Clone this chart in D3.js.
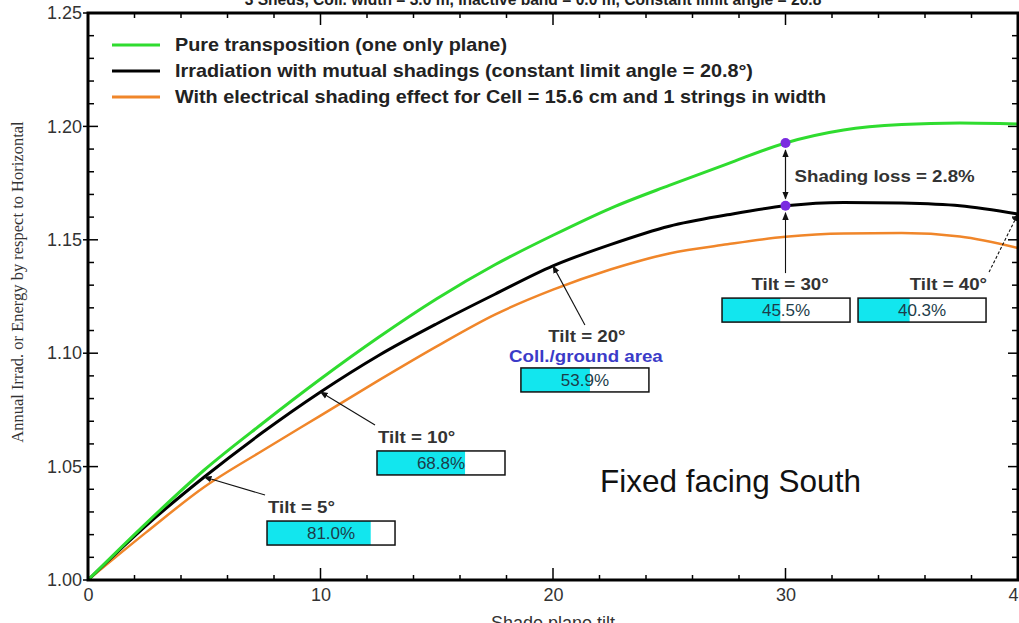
<!DOCTYPE html>
<html>
<head>
<meta charset="utf-8">
<title>Shading tilt</title>
<script src="https://cdn.jsdelivr.net/npm/d3@7"></script>
<style>
  body { margin: 0; background: #fff; }
  text { font-family: "Liberation Sans", Arial, sans-serif; }
</style>
</head>
<body>
<svg width="1019" height="623" id="mainsvg" style="display:block"></svg>
<script>
  // data
  const tilts = [0, 2.5, 5, 7.5, 10, 12.5, 15, 17.5, 20, 22.5, 25, 27.5, 30, 32.5, 35, 37.5, 40];
  const pureTransposition = [1.000, 1.025, 1.0485, 1.069, 1.0886, 1.107, 1.124, 1.139, 1.152, 1.164, 1.174, 1.1835, 1.1927, 1.1984, 1.2008, 1.2015, 1.2011];
  const mutualShading = [1.000, 1.024, 1.0454, 1.065, 1.0829, 1.099, 1.113, 1.126, 1.1385, 1.148, 1.156, 1.161, 1.165, 1.1665, 1.1662, 1.1650, 1.1614];
  const electricalShading = [1.000, 1.021, 1.041, 1.057, 1.0725, 1.088, 1.103, 1.117, 1.128, 1.137, 1.144, 1.148, 1.1513, 1.1528, 1.153, 1.1515, 1.1464];
  const seriesNames = [
    "Pure transposition (one only plane)",
    "Irradiation with mutual shadings (constant limit angle = 20.8°)",
    "With electrical shading effect for Cell = 15.6 cm and 1 strings in width"
  ];
  const seriesColors = ["#2fdc2f", "#000000", "#f0862a"];
  const markTilts = [5, 10, 20, 30, 40];
  const collGroundArea = [81.0, 68.8, 53.9, 45.5, 40.3];
  const lossTilt = 30;
  const shadingLoss = 2.8;
  const xTickValues = [0, 10, 20, 30, 40];
  const yTickValues = [1.00, 1.05, 1.10, 1.15, 1.20, 1.25];

  const svg = d3.select('svg');
  const width = +svg.attr('width');
  const height = +svg.attr('height');
  const margin = { top: 13, right: 1, bottom: 43, left: 88 };
  const innerWidth = width - margin.left - margin.right;
  const innerHeight = height - margin.top - margin.bottom;

  const x = d3.scaleLinear().domain([0, 40]).range([margin.left, margin.left + innerWidth]);
  const y = d3.scaleLinear().domain([1.0, 1.25]).range([margin.top + innerHeight, margin.top]);

  // the bold labels of the original are a bit wider than Arial bold
  const stretch = 1.1;
  const wideText = (parent, px, py) => parent.append('text')
    .attr('transform', `translate(${px}, ${py}) scale(${stretch}, 1)`);

  const defs = svg.append('defs');
  defs.append('marker').attr('id', 'arrow')
    .attr('viewBox', '0 0 10 10').attr('refX', 9).attr('refY', 5)
    .attr('markerWidth', 8).attr('markerHeight', 8).attr('orient', 'auto-start-reverse')
    .attr('markerUnits', 'userSpaceOnUse')
    .append('path').attr('d', 'M0,1 L10,5 L0,9 z').attr('fill', '#111');

  // title (cut by the top of the picture, as in the original)
  svg.append('text')
    .attr('x', 533).attr('y', 5)
    .attr('text-anchor', 'middle')
    .attr('font-size', 15.6).attr('font-weight', 'bold').attr('fill', '#222')
    .text('3 Sheds, Coll. width = 3.0 m, Inactive band = 0.0 m, Constant limit angle = 20.8');

  // ticks
  const minorX = d3.range(0, 40.01, 2);
  const minorY = d3.range(0, 26).map(i => 1 + i * 0.01);
  const tickG = svg.append('g').attr('stroke', '#000').attr('stroke-width', 1.5);
  minorX.forEach(v => {
    const major = v % 10 === 0;
    const len = major ? 12 : 5;
    tickG.append('line').attr('x1', x(v)).attr('x2', x(v)).attr('y1', y(1)).attr('y2', y(1) - len);
    tickG.append('line').attr('x1', x(v)).attr('x2', x(v)).attr('y1', y(1.25)).attr('y2', y(1.25) + len);
  });
  minorY.forEach((v, i) => {
    const major = i % 5 === 0;
    const len = major ? 10 : 6;
    tickG.append('line').attr('x1', x(0) - (major ? 5 : 0)).attr('x2', x(0) + len).attr('y1', y(v)).attr('y2', y(v));
    tickG.append('line').attr('x1', x(40)).attr('x2', x(40) - len).attr('y1', y(v)).attr('y2', y(v));
  });

  // tick labels
  svg.append('g')
    .attr('transform', `translate(0, ${y(1)})`)
    .call(d3.axisBottom(x).tickValues(xTickValues).tickSize(0).tickPadding(8).tickFormat(d3.format('d')))
    .call(g => g.select('.domain').remove())
    .selectAll('text')
    .attr('font-size', 18).attr('fill', '#333').style('font-family', '"Liberation Sans", Arial, sans-serif');

  svg.append('g')
    .attr('transform', `translate(${x(0)}, 0)`)
    .call(d3.axisLeft(y).tickValues(yTickValues).tickSize(0).tickPadding(6).tickFormat(d3.format('.2f')))
    .call(g => g.select('.domain').remove())
    .selectAll('text')
    .attr('font-size', 18).attr('fill', '#333').style('font-family', '"Liberation Sans", Arial, sans-serif');

  // axis titles
  svg.append('text')
    .attr('x', x(20)).attr('y', 629)
    .attr('text-anchor', 'middle')
    .attr('font-size', 18).attr('fill', '#333')
    .text('Shade plane tilt');

  svg.append('text')
    .attr('transform', 'translate(23, 282) rotate(-90)')
    .attr('text-anchor', 'middle')
    .attr('font-size', 16.5).attr('fill', '#333')
    .style('font-family', '"Liberation Serif", "Times New Roman", serif')
    .text('Annual Irrad. or Energy by respect to Horizontal');

  // curves
  const series = [pureTransposition, mutualShading, electricalShading];
  const line = d3.line()
    .x((d, i) => x(tilts[i]))
    .y(d => y(d))
    .curve(d3.curveMonotoneX);

  svg.append('g')
    .selectAll('path')
    .data(series.slice().reverse())
    .join('path')
    .attr('d', line)
    .attr('fill', 'none')
    .attr('stroke', (d, i) => seriesColors[2 - i])
    .attr('stroke-width', (d, i) => i === 0 ? 2.5 : 3);

  // legend
  const legend = svg.append('g').attr('transform', 'translate(112, 45)');
  seriesNames.forEach((name, i) => {
    legend.append('line')
      .attr('x1', 0).attr('x2', 48).attr('y1', i * 26).attr('y2', i * 26)
      .attr('stroke', seriesColors[i]).attr('stroke-width', 3);
    wideText(legend, 63, i * 26 + 6)
      .attr('font-size', 18).attr('font-weight', 'bold').attr('fill', '#222')
      .text(name);
  });

  // shading loss at tilt 30
  const iLoss = tilts.indexOf(lossTilt);
  svg.append('line')
    .attr('x1', x(lossTilt)).attr('x2', x(lossTilt))
    .attr('y1', y(pureTransposition[iLoss]) + 7).attr('y2', y(mutualShading[iLoss]) - 7)
    .attr('stroke', '#111').attr('stroke-width', 1.2)
    .attr('marker-start', 'url(#arrow)').attr('marker-end', 'url(#arrow)');
  wideText(svg, x(lossTilt) + 9, (y(pureTransposition[iLoss]) + y(mutualShading[iLoss])) / 2 + 8)
    .attr('font-size', 17).attr('font-weight', 'bold').attr('fill', '#333')
    .text(`Shading loss = ${shadingLoss}%`);

  // coll./ground area boxes: box placed in data units, label anchor
  const boxLayout = [
    { bx: 7.70, by: 1.0260, anchor: 'start' },
    { bx: 12.43, by: 1.0569, anchor: 'start' },
    { bx: 18.62, by: 1.0935, anchor: 'middle' },
    { bx: 27.27, by: 1.1243, anchor: 'middle' },
    { bx: 33.12, by: 1.1243, anchor: 'end' }
  ];
  const boxW = 128, boxH = 24;
  const fillScale = d3.scaleLinear().domain([0, 100]).range([0, boxW]);
  const ann = svg.append('g');

  markTilts.forEach((t, i) => {
    const lay = boxLayout[i];
    const bx = x(lay.bx), by = y(lay.by);
    const isTwenty = t === 20;
    const labelY = isTwenty ? by - 26 : by - 8;
    const labelX = lay.anchor === 'start' ? bx + 1 : lay.anchor === 'middle' ? bx + boxW / 2 + (t === 30 ? 4 : 2) : bx + boxW + 1;

    // arrow from label to the mutual shading curve
    const yCurve = y(mutualShading[tilts.indexOf(t)]);
    let sx, sy;
    if (lay.anchor === 'start') { sx = labelX - 3; sy = labelY - 18; }
    else if (lay.anchor === 'middle') { sx = t === 30 ? x(t) : labelX - 2; sy = labelY - 17; }
    else { sx = labelX + 2; sy = labelY - 18; }
    ann.append('line')
      .attr('x1', sx).attr('y1', sy)
      .attr('x2', x(t)).attr('y2', t === 30 ? yCurve + 7 : yCurve)
      .attr('stroke', '#111').attr('stroke-width', 1.1)
      .attr('stroke-dasharray', t === 40 ? '3,2' : null)
      .attr('marker-end', 'url(#arrow)');

    wideText(ann, labelX, labelY)
      .attr('text-anchor', lay.anchor)
      .attr('font-size', 17).attr('font-weight', 'bold').attr('fill', '#333')
      .text(`Tilt = ${t}°`);
    if (isTwenty) {
      wideText(ann, bx + boxW / 2 + 1, by - 6)
        .attr('text-anchor', 'middle')
        .attr('font-size', 17).attr('font-weight', 'bold').attr('fill', '#3b3bc8')
        .text('Coll./ground area');
    }

    ann.append('rect')
      .attr('x', bx).attr('y', by).attr('width', boxW).attr('height', boxH)
      .attr('fill', '#fff');
    ann.append('rect')
      .attr('x', bx).attr('y', by).attr('width', fillScale(collGroundArea[i])).attr('height', boxH)
      .attr('fill', '#12e6ee');
    ann.append('rect')
      .attr('x', bx).attr('y', by).attr('width', boxW).attr('height', boxH)
      .attr('fill', 'none').attr('stroke', '#111').attr('stroke-width', 1.5);
    ann.append('text')
      .attr('x', bx + boxW / 2).attr('y', by + 18)
      .attr('text-anchor', 'middle')
      .attr('font-size', 17).attr('fill', '#1d3d4a')
      .text(`${collGroundArea[i].toFixed(1)}%`);
  });

  // purple points
  svg.append('g')
    .selectAll('circle')
    .data([pureTransposition[iLoss], mutualShading[iLoss]])
    .join('circle')
    .attr('cx', x(lossTilt)).attr('cy', d => y(d))
    .attr('r', 5).attr('fill', '#7a2be0');

  svg.append('text')
    .attr('x', 600).attr('y', 492)
    .attr('font-size', 31.5).attr('fill', '#111')
    .text('Fixed facing South');

  // frame
  svg.append('rect')
    .attr('x', margin.left).attr('y', margin.top)
    .attr('width', innerWidth).attr('height', innerHeight)
    .attr('fill', 'none').attr('stroke', '#000').attr('stroke-width', 3);
</script>
</body>
</html>
